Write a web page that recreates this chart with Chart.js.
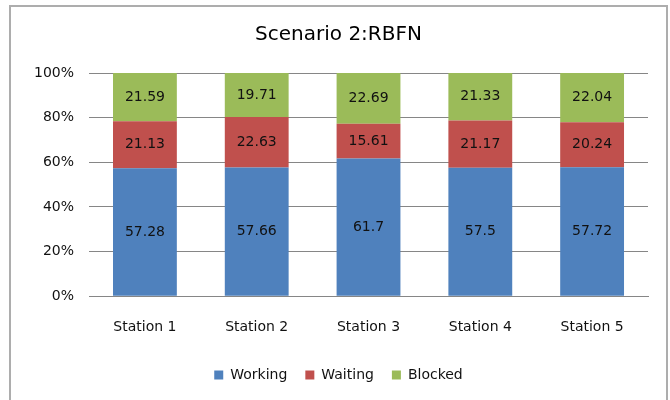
<!DOCTYPE html>
<html lang="en">
<head>
    <meta charset="UTF-8">
    <title>Scenario 2:RBFN</title>
    <style>
        body {
            margin: 0;
            padding: 0;
            background-color: #ffffff;
            font-family: "DejaVu Sans", sans-serif;
            overflow: hidden;
        }

        #chart-box {
            position: absolute;
            left: 9px;
            top: 5px;
            width: 655px;
            height: 395px;
            border: 2px solid #adadad;
            background-color: #ffffff;
        }
    </style>
</head>
<body>
    <div id="chart-box">
        <canvas id="rbfnChart" width="655" height="395"></canvas>
    </div>

    <script src="https://cdn.jsdelivr.net/npm/chart.js"></script>
    <script>
        const stations = ['Station 1', 'Station 2', 'Station 3', 'Station 4', 'Station 5'];
        const working = [57.28, 57.66, 61.7, 57.5, 57.72];
        const waiting = [21.13, 22.63, 15.61, 21.17, 20.24];
        const blocked = [21.59, 19.71, 22.69, 21.33, 22.04];
        const yTicks = [0, 20, 40, 60, 80, 100];

        const font = "'DejaVu Sans', sans-serif";

        // writes the value in the middle of every bar segment
        const segmentLabels = {
            id: 'segmentLabels',
            afterDatasetsDraw(chart) {
                const ctx = chart.ctx;
                ctx.save();
                ctx.font = '14px ' + font;
                ctx.fillStyle = '#111111';
                ctx.textAlign = 'center';
                ctx.textBaseline = 'middle';
                chart.data.datasets.forEach((ds, i) => {
                    chart.getDatasetMeta(i).data.forEach((bar, j) => {
                        const p = bar.getProps(['x', 'y', 'base'], true);
                        ctx.fillText(String(ds.data[j]), p.x, (p.y + p.base) / 2);
                    });
                });
                ctx.restore();
            }
        };

        const ctx = document.getElementById('rbfnChart').getContext('2d');
        new Chart(ctx, {
            type: 'bar',
            data: {
                labels: stations,
                datasets: [
                    { label: 'Working', data: working, backgroundColor: '#4f81bd' },
                    { label: 'Waiting', data: waiting, backgroundColor: '#c0504d' },
                    { label: 'Blocked', data: blocked, backgroundColor: '#9bbb59' }
                ]
            },
            options: {
                responsive: false,
                animation: false,
                events: [],
                layout: {
                    padding: { left: 18, right: 18, top: 0, bottom: 10 }
                },
                datasets: {
                    bar: {
                        categoryPercentage: 1,
                        barPercentage: 0.571
                    }
                },
                plugins: {
                    title: {
                        display: true,
                        text: 'Scenario 2:RBFN',
                        color: '#000000',
                        font: { family: font, size: 20, weight: 'normal' },
                        padding: { top: 16, bottom: 26 }
                    },
                    legend: {
                        position: 'bottom',
                        labels: {
                            boxWidth: 9,
                            boxHeight: 9,
                            padding: 18,
                            color: '#111111',
                            font: { family: font, size: 14 }
                        }
                    },
                    tooltip: { enabled: false }
                },
                scales: {
                    x: {
                        stacked: true,
                        grid: { display: false, drawTicks: false },
                        border: { display: true, color: '#868686', width: 1 },
                        ticks: {
                            color: '#111111',
                            padding: 23,
                            font: { family: font, size: 14 }
                        },
                        afterFit: axis => {
                            axis.height -= 9;
                        }
                    },
                    y: {
                        stacked: true,
                        min: 0,
                        max: 100,
                        afterBuildTicks: axis => {
                            axis.ticks = yTicks.map(v => ({ value: v }));
                        },
                        grid: { color: '#868686', drawTicks: false },
                        border: { display: false },
                        ticks: {
                            color: '#111111',
                            padding: 15,
                            font: { family: font, size: 14 },
                            callback: v => v + '%'
                        },
                        afterFit: axis => {
                            axis.width -= 10;
                        }
                    }
                }
            },
            plugins: [segmentLabels]
        });
    </script>
</body>
</html>
